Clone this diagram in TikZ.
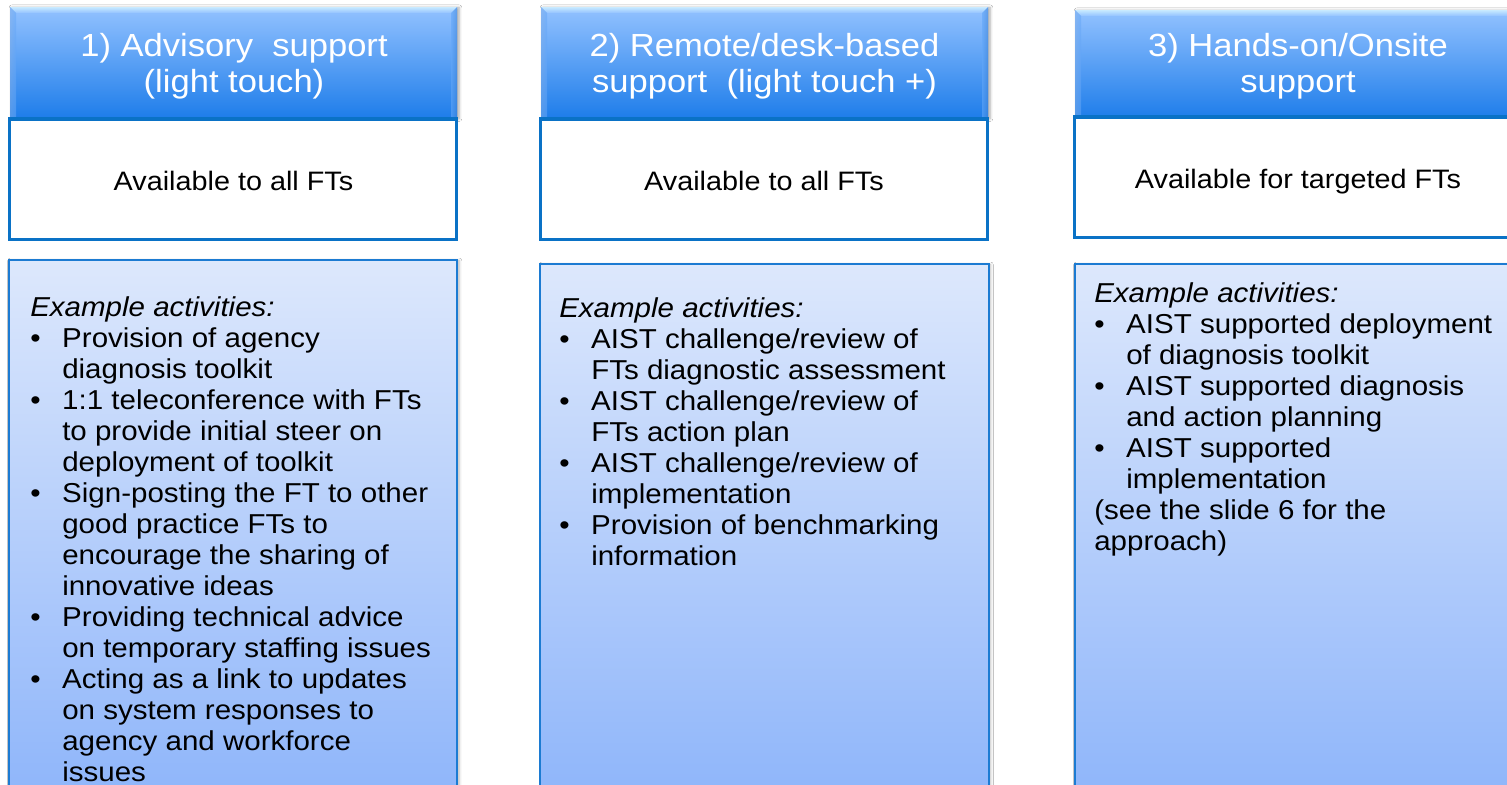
\documentclass[tikz,border=0pt]{standalone}
\usepackage{fontspec}
\setmainfont{Liberation Sans}[FakeStretch=1.08]
\usetikzlibrary{shadows.blur}
\definecolor{hdtop}{HTML}{93C2FF}
\definecolor{hdmid}{HTML}{62A6F8}
\definecolor{hdbot}{HTML}{1E7DEA}
\definecolor{bevtop}{HTML}{C8EAFF}
\definecolor{bevside}{HTML}{7FAEEA}
\definecolor{bevright}{HTML}{3F86DA}
\definecolor{boxblue}{HTML}{0A72C6}
\definecolor{acttop}{HTML}{DDE8FC}
\definecolor{actbot}{HTML}{8EB5FA}
\definecolor{actline}{HTML}{1C7BD2}
\newcommand\bl[1]{\makebox[24pt][l]{\textbullet}#1}
\newcommand\cl[1]{\hspace*{24pt}#1}
\newcommand\hdrbox[3]{%
  \shade[top color=hdtop, middle color=hdmid, bottom color=hdbot,
    blur shadow={shadow xshift=1.5pt, shadow yshift=-0.5pt, shadow blur steps=4, shadow opacity=35}]
    (#1,#3) rectangle (#2,118);
  \shade[top color=bevtop, bottom color=hdtop] (#1,#3) -- (#2,#3) -- (#2-6,#3+6) -- (#1+6,#3+6) -- cycle;
  \shade[left color=bevside, right color=hdmid, opacity=.55] (#1,#3) -- (#1+6,#3+6) -- (#1+6,118) -- (#1,118) -- cycle;
  \shade[left color=hdmid, right color=bevright, opacity=.6] (#2,#3) -- (#2-6,#3+6) -- (#2-6,118) -- (#2,118) -- cycle;
}
\tikzset{
  whitebox/.style={draw=boxblue, line width=2.4pt, fill=white},
  actbox/.style={draw=actline, line width=1.5pt, top color=acttop, bottom color=actbot,
    blur shadow={shadow xshift=1.5pt, shadow yshift=-1pt, shadow blur steps=4, shadow opacity=30}},
  hdtext/.style={text=white, inner sep=0pt, anchor=base, font=\fontsize{24}{27}\selectfont},
  midtext/.style={text=black, inner sep=0pt, anchor=base, font=\fontsize{20}{24}\selectfont},
  acttext/.style={text=black, inner sep=0pt, anchor=base west, font=\fontsize{20.5}{23.25}\selectfont},
}
\begin{document}
\begin{tikzpicture}[x=0.75pt, y=-0.75pt]
\useasboundingbox (0,0) rectangle (1507,785);
\clip (0,0) rectangle (1507,785);
\fill[white] (0,0) rectangle (1507,785);

% headers
\hdrbox{10}{457}{7}
\hdrbox{541}{988}{7}
\hdrbox{1075}{1530}{10}

% white boxes
\draw[whitebox] (9.5,119) rectangle (456.5,239.5);
\draw[whitebox] (540.5,119) rectangle (987.5,239.5);
\draw[whitebox] (1074.5,117) rectangle (1530,237.5);

% activity boxes
\path[actbox] (8.5,259.5) rectangle (457,800);
\path[actbox] (540,263.5) rectangle (988.5,800);
\path[actbox] (1074.5,263.5) rectangle (1530,800);

% header texts
\node[hdtext] (h1) at (234,56) {\parbox[t]{330pt}{\centering 1) Advisory\ \ support\\(light touch)}};
\node[hdtext] (h2) at (764.5,56) {\parbox[t]{330pt}{\centering 2) Remote/desk-based\\support\ \ (light touch +)}};
\node[hdtext] (h3) at (1298,56) {\parbox[t]{330pt}{\centering 3) Hands-on/Onsite\\support}};

% middle texts
\node[midtext] (m1) at (233.5,190) {Available to all FTs};
\node[midtext] (m2) at (764,190) {Available to all FTs};
\node[midtext] (m3) at (1298,188) {Available for targeted FTs};

% activity texts
\node[acttext] (a1) at (30,316) {\parbox[t]{330pt}{%
\textit{Example activities:}\\
\bl{Provision of agency}\\
\cl{diagnosis toolkit}\\
\bl{1:1 teleconference with FTs}\\
\cl{to provide initial steer on}\\
\cl{deployment of toolkit}\\
\bl{Sign-posting the FT to other}\\
\cl{good practice FTs to}\\
\cl{encourage the sharing of}\\
\cl{innovative ideas}\\
\bl{Providing technical advice}\\
\cl{on temporary staffing issues}\\
\bl{Acting as a link to updates}\\
\cl{on system responses to}\\
\cl{agency and workforce}\\
\cl{issues}}};

\node[acttext] (a2) at (559,317) {\parbox[t]{330pt}{%
\textit{Example activities:}\\
\bl{AIST challenge/review of}\\
\cl{FTs diagnostic assessment}\\
\bl{AIST challenge/review of}\\
\cl{FTs action plan}\\
\bl{AIST challenge/review of}\\
\cl{implementation}\\
\bl{Provision of benchmarking}\\
\cl{information}}};

\node[acttext] (a3) at (1094,302) {\parbox[t]{330pt}{%
\textit{Example activities:}\\
\bl{AIST supported deployment}\\
\cl{of diagnosis toolkit}\\
\bl{AIST supported diagnosis}\\
\cl{and action planning}\\
\bl{AIST supported}\\
\cl{implementation}\\
(see the slide 6 for the\\
approach)}};
\end{tikzpicture}
\end{document}
